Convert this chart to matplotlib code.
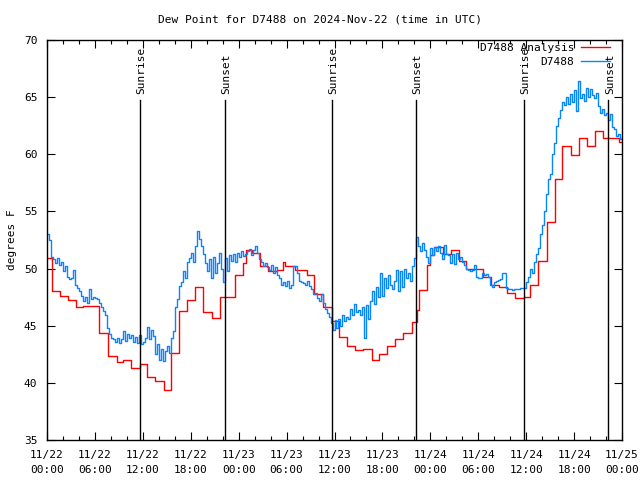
import matplotlib
matplotlib.use("Agg")
import matplotlib.pyplot as plt
from matplotlib.ticker import MultipleLocator, FixedLocator
import numpy as np

# ---------------- data ----------------
title = "Dew Point for D7488 on 2024-Nov-22 (time in UTC)"
ylabel = "degrees F"

# tick labels every 6 hours, 11/22 00:00 .. 11/25 00:00
tick_hours = [0, 6, 12, 18, 24, 30, 36, 42, 48, 54, 60, 66, 72]
tick_labels = ["11/22\n00:00", "11/22\n06:00", "11/22\n12:00", "11/22\n18:00",
               "11/23\n00:00", "11/23\n06:00", "11/23\n12:00", "11/23\n18:00",
               "11/24\n00:00", "11/24\n06:00", "11/24\n12:00", "11/24\n18:00",
               "11/25\n00:00"]

# sunrise / sunset (hours since 11/22 00:00 UTC)
sun_hours = [11.68, 22.32, 35.71, 46.22, 59.74, 70.30]
sun_labels = ["Sunrise", "Sunset", "Sunrise", "Sunset", "Sunrise", "Sunset"]

# D7488 analysis (step breakpoints, hours)
red_t = [0, 0.59, 1.63, 2.63, 3.59, 4.54, 6.51, 7.63, 8.76, 9.51, 10.51, 11.64,
         12.52, 13.52, 14.64, 15.52, 16.52, 17.52, 18.52, 19.52, 20.65, 21.65,
         23.53, 24.53, 24.9, 25.66, 26.66, 27.66, 28.78, 29.54, 29.79, 31.04,
         32.54, 33.42, 34.54, 35.67, 36.55, 37.55, 38.55, 39.55, 40.68, 41.55,
         42.55, 43.55, 44.56, 45.68, 46.31, 46.56, 47.56, 47.93, 48.44, 49.56,
         50.56, 51.56, 52.44, 53.57, 54.57, 55.57, 56.57, 57.57, 58.57, 59.7,
         60.45, 61.45, 62.58, 63.58, 64.46, 65.58, 66.58, 67.58, 68.58, 69.59,
         70.59, 71.59, 72.0]
red_v = [50.9, 48.0, 47.6, 47.25, 46.6, 46.75, 44.4, 42.35, 41.8, 42.0, 41.3, 41.65,
         40.55, 40.15, 39.35, 42.6, 46.3, 47.25, 48.35, 46.2, 45.65, 47.55,
         49.4, 50.45, 51.6, 51.4, 50.2, 49.75, 49.9, 50.6, 50.2, 49.9,
         49.4, 47.8, 46.6, 45.45, 44.0, 43.25, 42.9, 43.0, 42.0, 42.5,
         43.2, 43.85, 44.4, 45.3, 46.4, 48.1, 50.3, 51.2, 51.9, 51.3,
         51.6, 50.65, 50.0, 50.0, 49.3, 48.55, 48.4, 47.9, 47.4, 47.55,
         48.55, 50.7, 54.1, 57.8, 60.75, 59.9, 61.45, 60.75, 62.0, 61.45,
         61.4, 61.1, 61.1]

# D7488 observations, every 15 minutes from 11/22 00:00
blue_v = [
    53.0, 52.5, 51.0, 50.8,  50.5, 50.9, 50.3, 50.6,  49.8, 50.2, 49.3, 49.1,
    49.2, 49.9, 48.6, 48.3,  48.0, 47.6, 47.2, 47.5,  47.0, 48.2, 47.3, 47.5,
    47.4, 47.3, 47.0, 46.6,  46.3, 45.9, 44.8, 44.3,  43.9, 43.8, 43.6, 43.9,
    43.5, 43.8, 44.5, 43.7,  44.3, 43.9, 44.2, 43.6,  44.0, 43.5, 44.2, 43.4,
    43.6, 43.9, 44.9, 43.8,  44.6, 44.1, 42.5, 43.4,  42.0, 43.0, 41.9, 42.8,
    43.2, 42.6, 43.9, 44.5,  46.6, 47.3, 48.5, 48.8,  49.8, 49.2, 50.6, 50.9,
    51.4, 50.6, 52.0, 53.3,  52.6, 52.0, 51.3, 50.5,  49.8, 50.8, 49.2, 51.0,
    49.6, 50.5, 51.4, 50.0,  48.8, 50.9, 49.8, 51.2,  50.7, 51.3, 50.6, 51.4,
    51.0, 51.5, 51.1, 51.3,  51.5, 51.7, 51.2, 51.6,  52.0, 51.4, 50.8, 50.6,
    50.2, 50.5, 50.1, 49.9,  50.3, 49.6, 50.1, 49.4,  49.2, 48.6, 48.8, 48.5,
    48.9, 48.3, 48.6, 50.2,  50.2, 49.6, 48.9, 48.8,  48.7, 48.6, 48.9, 48.5,
    48.2, 47.8, 47.9, 47.4,  47.2, 47.8, 47.0, 46.5,  46.1, 45.8, 45.2, 44.6,
    45.5, 44.8, 45.6, 45.0,  45.9, 45.4, 45.8, 45.6,  46.5, 45.9, 46.9, 46.2,
    46.4, 45.9, 46.6, 43.9,  46.8, 45.6, 47.2, 48.0,  46.9, 48.4, 47.5, 49.6,
    47.6, 49.2, 48.3, 49.4,  48.6, 48.2, 48.9, 49.9,  48.0, 49.8, 48.4, 50.0,
    49.2, 49.6, 48.9, 50.2,  50.9, 52.8, 52.0, 51.5,  52.2, 51.6, 51.0, 50.5,
    51.8, 51.2, 51.9, 51.5,  52.0, 51.4, 50.8, 52.1,  51.3, 51.2, 50.5, 51.3,
    50.4, 51.4, 50.8, 51.0,  50.6, 50.3, 50.0, 49.9,  49.8, 49.9, 50.3, 49.3,
    49.2, 49.2, 49.6, 49.4,  49.5, 49.3, 48.6, 48.4,  48.8, 48.9, 49.0, 49.1,
    49.6, 49.6, 48.3, 48.2,  48.2, 48.1, 48.2, 48.2,  48.2, 48.3, 48.3, 48.3,
    48.8, 49.3, 50.0, 49.6,  50.6, 51.3, 51.8, 53.0,  53.8, 55.0, 56.5, 57.8,
    58.3, 60.0, 61.0, 62.5,  63.2, 63.9, 64.6, 64.3,  65.0, 64.4, 65.3, 64.6,
    65.6, 63.8, 66.4, 64.9,  65.3, 64.7, 65.8, 65.0,  65.7, 65.2, 64.9, 65.4,
    64.2, 63.6, 64.0, 63.4,  63.6, 63.0, 63.5, 62.4,  62.2, 61.6, 61.8, 61.3,
    61.5]

# ---------------- plot ----------------
mono = ["DejaVu Sans Mono"]
plt.rcParams["font.family"] = mono
plt.rcParams["font.size"] = 8

fig = plt.figure(figsize=(6.4, 4.8), dpi=100)
ax = fig.add_axes([47 / 640, 40 / 480, 575 / 640, 400 / 480])

blue_t = np.arange(len(blue_v)) * 0.25

ax.plot(red_t, red_v, drawstyle="steps-post", color="#ff0000", lw=1.0,
        label="D7488 Analysis")
ax.plot(blue_t, blue_v, drawstyle="steps-post", color="#0a84ff", lw=1.0,
        label="D7488")

ax.set_xlim(0, 72)
ax.set_ylim(35, 70)

# sunrise / sunset lines and labels
line_top = 64.75
for h, lab in zip(sun_hours, sun_labels):
    ax.plot([h, h], [35, line_top], color="black", lw=1.0)
    ax.annotate(lab, xy=(h, 65.3), xytext=(1, 0), textcoords="offset points",
                rotation=90, ha="center", va="bottom", fontsize=8)

ax.xaxis.set_major_locator(FixedLocator(tick_hours))
ax.set_xticklabels(tick_labels, linespacing=1.7)
ax.xaxis.set_minor_locator(MultipleLocator(2))
ax.yaxis.set_major_locator(MultipleLocator(5))
ax.tick_params(which="both", direction="in", top=True, right=True, width=0.8)
ax.tick_params(which="major", length=6)
ax.tick_params(which="minor", length=3)
ax.tick_params(axis="x", which="major", pad=7)
ax.tick_params(axis="y", which="major", pad=7)
for sp in ax.spines.values():
    sp.set_linewidth(1.0)

fig.text(12 / 640, 0.5, ylabel, rotation=90, ha="center", va="center", fontsize=8)
fig.text(0.5, 1 - 20 / 480, title, ha="center", va="center", fontsize=8)

leg = ax.legend(loc="upper right", bbox_to_anchor=(0.979, 0.993),
                frameon=False, markerfirst=False, borderpad=0,
                handlelength=2.6, handletextpad=0.6, borderaxespad=0,
                labelspacing=0.35, fontsize=8)

fig.savefig("out.png", dpi=100)
